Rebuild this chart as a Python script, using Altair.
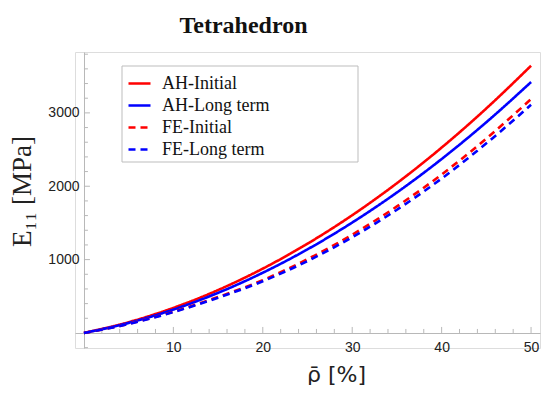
import altair as alt
import pandas as pd

# ---- data ----
rho = [0, 5, 10, 15, 20, 25, 30, 35, 40, 45, 50]
ah_initial = [0, 147, 342, 585, 877, 1217, 1605, 2042, 2527, 3061, 3643]
ah_long = [0, 137, 319, 547, 821, 1140, 1505, 1915, 2371, 2873, 3420]
fe_initial = [0, 125, 290, 490, 720, 1005, 1340, 1725, 2160, 2650, 3188]
fe_long = [0, 122, 285, 480, 705, 980, 1305, 1680, 2105, 2585, 3110]

series_names = ["AH-Initial", "AH-Long term", "FE-Initial", "FE-Long term"]
series_colors = ["#ff0000", "#0000ff", "#ff0000", "#0000ff"]
series_dash = [[1, 0], [1, 0], [7, 5], [7, 5]]

x_major = [10, 20, 30, 40, 50]
x_minor = [2, 4, 6, 8, 12, 14, 16, 18, 22, 24, 26, 28, 32, 34, 36, 38, 42, 44, 46, 48]
y_major = [1000, 2000, 3000]
y_minor = [-200, 200, 400, 600, 800, 1200, 1400, 1600, 1800, 2200, 2400, 2600, 2800,
           3200, 3400, 3600, 3800]

x_domain = [-1, 51]
y_domain = [-205, 3830]

rows = []
for name, vals in zip(series_names, [ah_initial, ah_long, fe_initial, fe_long]):
    for xv, yv in zip(rho, vals):
        rows.append({"rho": xv, "E": yv, "series": name})
df = pd.DataFrame(rows)

AX = "#b8b8b8"
xs = alt.Scale(domain=x_domain, nice=False, zero=False)
ys = alt.Scale(domain=y_domain, nice=False, zero=False)

frame = alt.Chart(pd.DataFrame({"k": [0]})).mark_rect(
    fill="white", stroke="#bdbdbd", strokeWidth=1
).encode(x=alt.value(47), x2=alt.value(283), y=alt.value(14), y2=alt.value(110))

lines = alt.Chart(df).mark_line(strokeWidth=2.6, interpolate="monotone").encode(
    x=alt.X("rho:Q", scale=xs,
            axis=alt.Axis(values=x_major, format="d", tickSize=0, domainColor=AX, offset=-15,
                          grid=False, labelFont="Liberation Sans", labelFontSize=14,
                          labelColor="#222", labelPadding=7,
                          title="ρ̄ [%]", titleFont="DejaVu Sans", titleFontSize=22,
                          titleFontWeight="normal",
                          titleColor="#222", titleX=261, titleY=41,
                          titleBaseline="middle", titleAnchor="start", titleAlign="center")),
    y=alt.Y("E:Q", scale=ys,
            axis=alt.Axis(values=y_major, format="d", tickSize=0, domainColor=AX, offset=-9,
                          grid=False, labelFont="Liberation Sans", labelFontSize=14,
                          labelColor="#222", labelPadding=5,
                          title="E₁₁ [MPa]", titleFont="Liberation Serif", titleFontSize=27,
                          titleFontWeight="normal", titleColor="#222",
                          titleX=-62, titleY=139, titleAngle=-90,
                          titleAlign="center", titleBaseline="middle")),
    color=alt.Color("series:N", scale=alt.Scale(domain=series_names, range=series_colors),
                    legend=alt.Legend(title=None, orient="none", legendX=52, legendY=19,
                                      symbolType="stroke", symbolSize=484,
                                      symbolStrokeWidth=2.6, labelFont="Liberation Serif",
                                      labelFontSize=18, labelColor="#111",
                                      labelOffset=10, rowPadding=0, padding=0)),
    strokeDash=alt.StrokeDash("series:N",
                              scale=alt.Scale(domain=series_names, range=series_dash),
                              legend=alt.Legend(title=None, orient="none", legendX=52,
                                                legendY=19)),
    order=alt.Order("series:N"),
)

xt_major = alt.Chart(pd.DataFrame({"v": x_major})).mark_rule(
    color=AX, y2Offset=-6).encode(x=alt.X("v:Q", scale=xs), y=alt.datum(0), y2=alt.datum(0))
xt_minor = alt.Chart(pd.DataFrame({"v": x_minor})).mark_rule(
    color=AX, y2Offset=-4).encode(x=alt.X("v:Q", scale=xs), y=alt.datum(0), y2=alt.datum(0))
yt_major = alt.Chart(pd.DataFrame({"v": y_major})).mark_rule(
    color=AX, x2Offset=6).encode(y=alt.Y("v:Q", scale=ys), x=alt.datum(0), x2=alt.datum(0))
yt_minor = alt.Chart(pd.DataFrame({"v": y_minor})).mark_rule(
    color=AX, x2Offset=4).encode(y=alt.Y("v:Q", scale=ys), x=alt.datum(0), x2=alt.datum(0))

chart = alt.layer(frame, xt_major, xt_minor, yt_major, yt_minor, lines).properties(
    width=465, height=296,
    autosize=alt.AutoSizeParams(type="none"),
    padding={"left": 67, "top": 44, "right": 2, "bottom": 37},
    title=alt.TitleParams("Tetrahedron", font="Liberation Serif", fontSize=24,
                          fontWeight="bold", color="#111", anchor="middle", dx=-64,
                          offset=14),
).configure_view(stroke=None).configure(background="white")

chart.save("out.html", embed_options={"renderer": "svg", "actions": False})
